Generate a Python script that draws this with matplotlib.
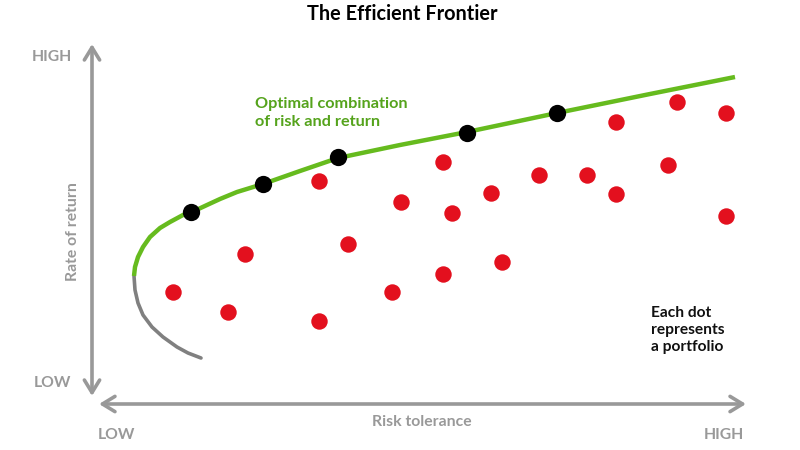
import matplotlib.pyplot as plt

plt.rcParams['font.family'] = ['Lato', 'DejaVu Sans']

# values (plot units: risk to the right, return upward)
frontier_x = [134, 135, 138, 143, 150, 160, 170, 183, 192, 207, 220, 237, 263, 300, 338, 400, 467, 557, 650, 735]
frontier_y = [276, 267, 257, 247, 237, 228, 222, 215, 212, 205, 199, 192, 184, 171, 158, 145, 132, 113, 94, 77]
lower_x = [134, 135, 138, 143, 152, 163, 177, 188, 201]
lower_y = [276, 290, 303, 315, 327, 337, 347, 353, 358]

best_x = [191, 263, 338, 467, 557]
best_y = [212, 184, 157, 133, 113]

port_x = [173, 228, 245, 319, 319, 348, 392, 401, 443, 452, 443, 491, 502, 539, 587, 616, 616, 668, 677, 726, 726]
port_y = [292, 312, 254, 181, 321, 244, 292, 202, 162, 213, 274, 193, 262, 175, 175, 122, 194, 165, 102, 113, 216]

GRAY = '#999999'
GREEN = '#66bb1e'
RED = '#e3101e'

fig = plt.figure(figsize=(8, 4.5), dpi=100)
ax = fig.add_axes([0, 0, 1, 1])
ax.set_xlim(0, 800)
ax.set_ylim(450, 0)
ax.axis('off')

# axes arrows
arrow = dict(arrowstyle='<->,head_length=0.9,head_width=0.55', color=GRAY, lw=2.6,
             shrinkA=0, shrinkB=0)
ax.annotate('', xy=(92, 44), xytext=(92, 396), arrowprops=arrow)
ax.annotate('', xy=(746, 404), xytext=(99, 404), arrowprops=arrow)

# frontier
ax.plot(lower_x, lower_y, color='#808080', lw=2.6, solid_capstyle='round',
        solid_joinstyle='round', zorder=2)
ax.plot(frontier_x, frontier_y, color=GREEN, lw=3.2, solid_capstyle='butt',
        solid_joinstyle='round', zorder=2)

ax.scatter(port_x, port_y, s=140, color=RED, zorder=3, linewidths=0)
ax.scatter(best_x, best_y, s=155, color='black', zorder=4, linewidths=0)

# text
ax.text(402, 14, 'The Efficient Frontier', ha='center', va='center',
        fontsize=14.3, fontweight='bold', color='black')
lbl = dict(fontsize=11.3, fontweight='bold', color=GRAY, va='center')
ax.text(52, 57, 'HIGH', ha='center', **lbl)
ax.text(52, 383, 'LOW', ha='center', **lbl)
ax.text(116, 435, 'LOW', ha='center', **lbl)
ax.text(724, 435, 'HIGH', ha='center', **lbl)
ax.text(422, 422, 'Risk tolerance', ha='center', **lbl)
ax.text(73, 232, 'Rate of return', ha='center', rotation=90, **lbl)

ax.text(255, 113, 'Optimal combination\nof risk and return', ha='left', va='center',
        fontsize=11.7, fontweight='bold', color='#55a31c', linespacing=1.3)
ax.text(651, 330, 'Each dot\nrepresents\na portfolio', ha='left', va='center',
        fontsize=11.2, fontweight='bold', color='#111111', linespacing=1.3)

fig.savefig('out.png', dpi=100)
